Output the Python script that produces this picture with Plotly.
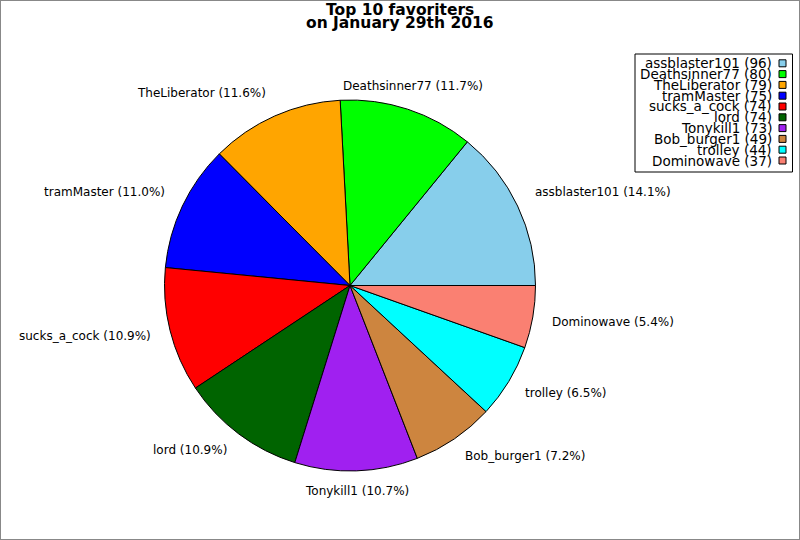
import numpy as np
import plotly.graph_objects as go

# Top 10 favoriters data
names = ['assblaster101', 'Deathsinner77', 'TheLiberator', 'tramMaster', 'sucks_a_cock',
         'lord', 'Tonykill1', 'Bob_burger1', 'trolley', 'Dominowave']
counts = [96, 80, 79, 75, 74, 74, 73, 49, 44, 37]
colors = ['#87CEEB', '#00FF00', '#FFA500', '#0000FF', '#FF0000',
          '#006400', '#A020F0', '#CD853F', '#00FFFF', '#FA8072']

W, H = 800, 540
fnt = 'DejaVu Sans'

# pie placement in pixels
cx, cy, R = 350, 285.5, 185.5

total = sum(counts)
fig = go.Figure()
fig.add_trace(go.Pie(
    labels=names, values=counts, sort=False, direction='counterclockwise',
    # first slice starts at 3 o'clock
    rotation=90 - counts[0] / total * 360,
    marker=dict(colors=colors, line=dict(color='black', width=1)),
    textinfo='none',
    domain=dict(x=[(cx - R) / W, (cx + R) / W], y=[1 - (cy + R) / H, 1 - (cy - R) / H]),
    showlegend=False, hoverinfo='label+value+percent'))

# slice labels outside the pie, at 1.1 radius
cum = np.cumsum(counts)
for n, c, cu in zip(names, counts, cum):
    mid = (cu - c / 2) / total * 2 * np.pi
    co, si = np.cos(mid), np.sin(mid)
    if abs(co) < 0.342:
        xa, dx = 'center', 0
    elif co > 0:
        xa, dx = 'left', -1.5
    else:
        xa, dx = 'right', 1
    fig.add_annotation(x=(cx + 1.1 * R * co) / W, y=1 - (cy - 1.1 * R * si) / H,
                       xref='paper', yref='paper', xanchor=xa,
                       yanchor='bottom' if si > 0 else 'middle',
                       xshift=dx, yshift=-3 if si > 0 else -1.5,
                       text=f'{n} ({c / total * 100:.1f}%)', showarrow=False,
                       font=dict(family=fnt, size=12, color='black'))

# legend box, text right aligned with the colour square on the right
row_h = 10.8
top = 63.3
for i, (n, c, col) in enumerate(zip(names, counts, colors)):
    yc = 1 - (top + i * row_h) / H
    fig.add_annotation(x=774 / W, y=yc, xref='paper', yref='paper', xanchor='right', yanchor='middle',
                       text=f'{n} ({c})', showarrow=False,
                       font=dict(family=fnt, size=13.5, color='black'))
    fig.add_shape(type='rect', xref='paper', yref='paper',
                  x0=779 / W, x1=786 / W, y0=yc - 3.5 / H, y1=yc + 3.5 / H,
                  fillcolor=col, line=dict(color='black', width=1))
fig.add_shape(type='rect', xref='paper', yref='paper', x0=635 / W, x1=792.5 / W,
              y0=1 - 172 / H, y1=1 - 54 / H, line=dict(color='black', width=1))

# title, two tight lines
for txt, yy in [('Top 10 favoriters', 9.5), ('on January 29th 2016', 23.5)]:
    fig.add_annotation(x=0.5, y=1 - yy / H, xref='paper', yref='paper', xanchor='center', yanchor='middle',
                       text=f'<b>{txt}</b>', showarrow=False,
                       font=dict(family=fnt, size=15.5, color='black'))

# outer frame
fig.add_shape(type='rect', xref='paper', yref='paper', x0=0, x1=1, y0=0, y1=1,
              line=dict(color='#888888', width=2))

fig.update_layout(
    width=W, height=H, margin=dict(l=0, r=0, t=0, b=0),
    paper_bgcolor='white', plot_bgcolor='white',
)

fig.write_html('out.html', config={'displayModeBar': False},
               post_script="document.body.style.margin='0';")
